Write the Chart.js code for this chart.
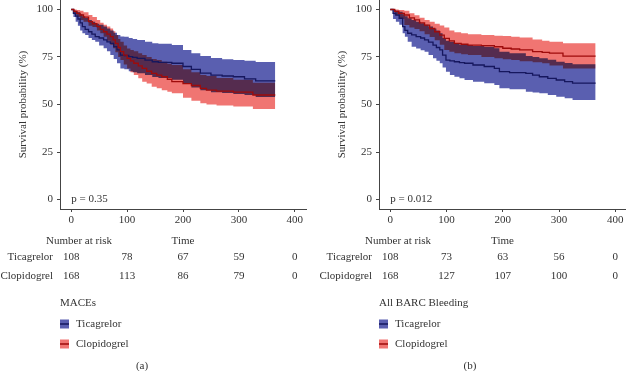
<!DOCTYPE html>
<html>
<head>
<meta charset="utf-8">
<script src="https://cdn.jsdelivr.net/npm/chart.js@4"></script>
<style>
  body { margin: 0; background: #fff; width: 626px; height: 371px; overflow: hidden; position: relative; }
  canvas { position: absolute; top: 0; }
  #chartA { left: 0; }
  #chartB { left: 319px; }
</style>
</head>
<body>
<canvas id="chartA" width="313" height="371"></canvas>
<canvas id="chartB" width="307" height="371"></canvas>
<script>
const xTicks = [0, 100, 200, 300, 400];
const yTicks = [0, 25, 50, 75, 100];
const riskTimes = [0, 100, 200, 300, 400];
const groups = ["Ticagrelor", "Clopidogrel"];

// (a) MACEs
const macesTicTime = [0, 4, 8, 12, 16, 20, 25, 31, 37, 43, 50, 58, 64, 70, 76, 82, 88, 95, 103, 110, 118, 132, 145, 156, 180, 200, 215, 231, 250, 270, 290, 310, 330, 365];
const macesTicEst = [100, 98, 96.5, 95, 93, 91, 89.5, 88.3, 87, 85.7, 85, 84, 83, 82.2, 80.5, 78.7, 76, 75.8, 75.2, 74.8, 74.3, 73.4, 72.5, 72.2, 71.7, 70, 68.5, 66.5, 65.5, 65, 64.6, 63.5, 62.4, 62.4];
const macesTicLower = [100, 96, 93.5, 91.5, 89, 87.5, 86.6, 85, 84, 83, 81, 79.6, 78, 76, 74, 71.7, 69, 68.5, 67.5, 67, 66.5, 65.5, 64.5, 64, 63, 61, 59, 57.5, 56.5, 56, 55.5, 55, 54, 54];
const macesTicUpper = [100, 99.5, 99, 98.5, 97.5, 96.5, 95.5, 94.5, 93.5, 92.5, 92, 91, 90, 89, 87.8, 86.6, 85.8, 85.7, 85, 84.5, 84, 83, 82.2, 82, 81.3, 78.7, 77, 75.5, 74.5, 73.8, 73.4, 73, 72.4, 72.4];

const macesClopTime = [0, 5, 10, 16, 22, 31, 38, 46, 52, 58, 64, 70, 75, 79, 84, 88, 94, 100, 106, 112, 120, 127, 135, 144, 153, 162, 172, 180, 200, 215, 231, 242, 260, 290, 325, 365];
const macesClopEst = [100, 99, 98, 97.1, 96, 93.6, 92.5, 91, 89.5, 88.3, 87, 85.7, 84, 82.2, 80, 77.8, 76, 74.3, 73, 71.7, 70.3, 69, 67.5, 66.4, 65.5, 64.6, 63.3, 62, 61, 60, 58.5, 57.6, 57, 56.5, 55, 55];
const macesClopLower = [100, 97.5, 96, 94.5, 93.6, 91.5, 90.8, 89, 87.5, 85.7, 83.5, 81.5, 79.6, 77.5, 75, 73.4, 71, 69, 67, 65.5, 63.8, 62, 61, 59.4, 58.5, 57.5, 56.7, 55.9, 53.5, 52, 50.6, 50, 49.5, 49, 47.6, 47.6];
const macesClopUpper = [100, 100, 99.7, 99.4, 98.5, 97.1, 96, 94.5, 93, 92, 91, 90, 88.5, 86.6, 84.5, 83, 81, 79.5, 78.7, 78, 77, 76, 75, 74, 73.4, 72.5, 71.5, 70.8, 68.5, 67, 65.5, 65, 64, 63, 61.5, 61.5];

const macesRiskTic = [108, 78, 67, 59, 0];
const macesRiskClop = [168, 113, 86, 79, 0];

// (b) All BARC bleeding
const bleedTicTime = [0, 5, 10, 16, 22, 26, 31, 38, 46, 54, 61, 68, 76, 82, 88, 93, 99, 106, 114, 123, 132, 147, 167, 185, 194, 212, 241, 253, 265, 280, 295, 310, 324, 365];
const bleedTicEst = [100, 98, 97, 95.4, 91, 89, 87.5, 86.6, 85.7, 85, 84, 82.8, 81.3, 80, 78.7, 76, 73.4, 73, 72.5, 72, 71.7, 70.8, 70, 69, 67.3, 66.8, 66.4, 65.5, 64.6, 63.8, 62.9, 62, 61.2, 61.2];
const bleedTicLower = [100, 95, 93.5, 92, 87.5, 85.7, 83, 80.4, 79.5, 78.5, 77.8, 76, 74.3, 73, 71.7, 69.5, 67.3, 65.5, 64.6, 63.8, 62.9, 62, 61.2, 60.3, 58.5, 58, 56.7, 56.3, 55.9, 55, 54.1, 53.3, 52.4, 52.4];
const bleedTicUpper = [100, 99.8, 99.4, 98.8, 97.5, 96.5, 95.4, 94.5, 93.5, 92.7, 92, 91, 90, 89, 87.5, 85, 83.5, 83, 82, 81.5, 81.3, 80.8, 80.4, 79.6, 77.8, 77, 75.5, 75, 74.3, 73.5, 72.5, 71.8, 71.2, 71.2];

const bleedClopTime = [0, 8, 15, 25, 34, 43, 52, 61, 70, 79, 88, 96, 105, 114, 126, 138, 162, 185, 200, 215, 230, 253, 270, 283, 307, 365];
const bleedClopEst = [100, 99, 98, 97.1, 95.6, 94.5, 93, 91.8, 90, 88.3, 86.5, 84.8, 83.5, 82.2, 81.7, 81.3, 81, 80.4, 79.6, 79.2, 78.7, 77.8, 77.4, 77, 75.5, 75.5];
const bleedClopLower = [100, 97, 95, 91.8, 90.5, 89.8, 88.5, 87, 85.5, 83.8, 81.5, 78.7, 77.8, 77, 76.5, 76, 75, 74.3, 73.8, 73.4, 72.7, 72.3, 71.7, 70.5, 69, 69];
const bleedClopUpper = [100, 100, 99.7, 99.4, 98, 97, 95.6, 94.5, 93.6, 92.5, 91.6, 90.5, 89, 88, 87.5, 87, 86.6, 86.2, 86, 85.7, 85.2, 84.2, 83.5, 83, 82.2, 82.2];

const bleedRiskTic = [108, 73, 63, 56, 0];
const bleedRiskClop = [168, 127, 107, 100, 0];

const BLUE_BAND = "rgb(90, 95, 176)";
const RED_BAND = "rgb(240, 117, 114)";
const BLUE_LINE = "#16175e";
const RED_LINE = "#9e0b0b";
const TEXT = "#333333";
const AXIS = "#444444";
const FONT = "'Liberation Serif', 'DejaVu Serif', serif";

Chart.defaults.font.family = FONT;
Chart.defaults.font.size = 11;
Chart.defaults.color = TEXT;

function toPoints(times, values) {
  return times.map((t, i) => ({ x: t, y: values[i] }));
}

function lineSet(times, values, color) {
  return {
    data: toPoints(times, values),
    borderColor: color,
    borderWidth: 1.3,
    pointRadius: 0,
    stepped: true,
    fill: false,
  };
}

function bandSet(times, values, color, fillTarget) {
  return {
    data: toPoints(times, values),
    borderColor: "rgba(0,0,0,0)",
    borderWidth: 0,
    backgroundColor: color,
    pointRadius: 0,
    stepped: true,
    fill: fillTarget,
  };
}

// red band is multiplied over the blue one so the overlap goes dark
const bandBlend = {
  id: "bandBlend",
  beforeDatasetDraw(chart, args) {
    if (args.index === 3) chart.ctx.globalCompositeOperation = "multiply";
  },
  afterDatasetDraw(chart, args) {
    if (args.index === 2) chart.ctx.globalCompositeOperation = "source-over";
  },
};

const panelText = {
  id: "panelText",
  afterDraw(chart, args, opts) {
    let ctx = chart.ctx;
    let xs = chart.scales.x;
    let ys = chart.scales.y;
    ctx.save();
    ctx.globalCompositeOperation = "source-over";
    ctx.fillStyle = TEXT;
    ctx.font = "11px " + FONT;
    ctx.textBaseline = "middle";

    ctx.textAlign = "left";
    ctx.fillText(opts.pText, xs.getPixelForValue(0), ys.getPixelForValue(0));
    ctx.fillText("Number at risk", 46, 241);

    ctx.textAlign = "right";
    ctx.fillText(groups[0], 53, 257.5);
    ctx.fillText(groups[1], 53, 276);

    ctx.textAlign = "center";
    riskTimes.forEach(function (t, i) {
      let px = xs.getPixelForValue(t);
      ctx.fillText(String(opts.riskTic[i]), px, 257.5);
      ctx.fillText(String(opts.riskClop[i]), px, 276);
    });

    ctx.textAlign = "left";
    ctx.fillText(opts.legendTitle, 60, 303);
    let items = [
      [BLUE_BAND, BLUE_LINE, groups[0], 324],
      [RED_BAND, RED_LINE, groups[1], 344],
    ];
    items.forEach(function (it) {
      ctx.fillStyle = it[0];
      ctx.fillRect(60, it[3] - 4.5, 9, 9);
      ctx.strokeStyle = it[1];
      ctx.lineWidth = 1.5;
      ctx.beginPath();
      ctx.moveTo(60, it[3]);
      ctx.lineTo(69, it[3]);
      ctx.stroke();
      ctx.fillStyle = TEXT;
      ctx.fillText(it[2], 76, it[3]);
    });

    ctx.textAlign = "center";
    ctx.fillText(opts.caption, opts.captionX, 366);
    ctx.restore();
  },
};

function makePanel(canvasId, p) {
  let ctx = document.getElementById(canvasId).getContext("2d");
  return new Chart(ctx, {
    type: "line",
    data: {
      datasets: [
        lineSet(p.clopTime, p.clopEst, RED_LINE),
        lineSet(p.ticTime, p.ticEst, BLUE_LINE),
        bandSet(p.clopTime, p.clopUpper, RED_BAND, "+1"),
        bandSet(p.clopTime, p.clopLower, RED_BAND, false),
        bandSet(p.ticTime, p.ticUpper, BLUE_BAND, "+1"),
        bandSet(p.ticTime, p.ticLower, BLUE_BAND, false),
      ],
    },
    options: {
      responsive: false,
      animation: false,
      devicePixelRatio: 1,
      events: [],
      layout: { padding: { left: 0, right: p.padRight, top: 0, bottom: 122 } },
      plugins: {
        legend: { display: false },
        tooltip: { enabled: false },
        panelText: {
          pText: p.pText,
          riskTic: p.riskTic,
          riskClop: p.riskClop,
          legendTitle: p.legendTitle,
          caption: p.caption,
          captionX: p.captionX,
        },
      },
      scales: {
        x: {
          type: "linear",
          min: -20,
          max: p.xMax,
          afterBuildTicks: (scale) => {
            scale.ticks = xTicks.map((v) => ({ value: v }));
          },
          afterFit: (scale) => {
            scale.height = 40;
            scale.paddingLeft = 0;
            scale.paddingRight = 0;
          },
          ticks: { autoSkip: false, maxRotation: 0, padding: 2, color: TEXT },
          grid: { drawOnChartArea: false, drawTicks: true, tickLength: 3, tickColor: AXIS },
          border: { display: true, color: AXIS, width: 1 },
          title: { display: true, text: "Time", color: TEXT, padding: { top: 0, bottom: 1.5 } },
        },
        y: {
          type: "linear",
          min: -5,
          max: 105,
          afterBuildTicks: (scale) => {
            scale.ticks = yTicks.map((v) => ({ value: v }));
          },
          afterFit: (scale) => {
            scale.width = 60;
            scale.paddingTop = 0;
            scale.paddingBottom = 0;
          },
          ticks: { padding: 4, color: TEXT },
          grid: { drawOnChartArea: false, drawTicks: true, tickLength: 3, tickColor: AXIS },
          border: { display: true, color: AXIS, width: 1 },
          title: {
            display: true,
            text: "Survival probability (%)",
            color: TEXT,
            padding: { top: 17, bottom: 0 },
          },
        },
      },
    },
    plugins: [bandBlend, panelText],
  });
}

makePanel("chartA", {
  ticTime: macesTicTime, ticEst: macesTicEst, ticLower: macesTicLower, ticUpper: macesTicUpper,
  clopTime: macesClopTime, clopEst: macesClopEst, clopLower: macesClopLower, clopUpper: macesClopUpper,
  riskTic: macesRiskTic, riskClop: macesRiskClop,
  pText: "p = 0.35", legendTitle: "MACEs", caption: "(a)", captionX: 142,
  padRight: 7, xMax: 420,
});

makePanel("chartB", {
  ticTime: bleedTicTime, ticEst: bleedTicEst, ticLower: bleedTicLower, ticUpper: bleedTicUpper,
  clopTime: bleedClopTime, clopEst: bleedClopEst, clopLower: bleedClopLower, clopUpper: bleedClopUpper,
  riskTic: bleedRiskTic, riskClop: bleedRiskClop,
  pText: "p = 0.012", legendTitle: "All BARC Bleeding", caption: "(b)", captionX: 151,
  padRight: 0, xMax: 419,
});
</script>
</body>
</html>
